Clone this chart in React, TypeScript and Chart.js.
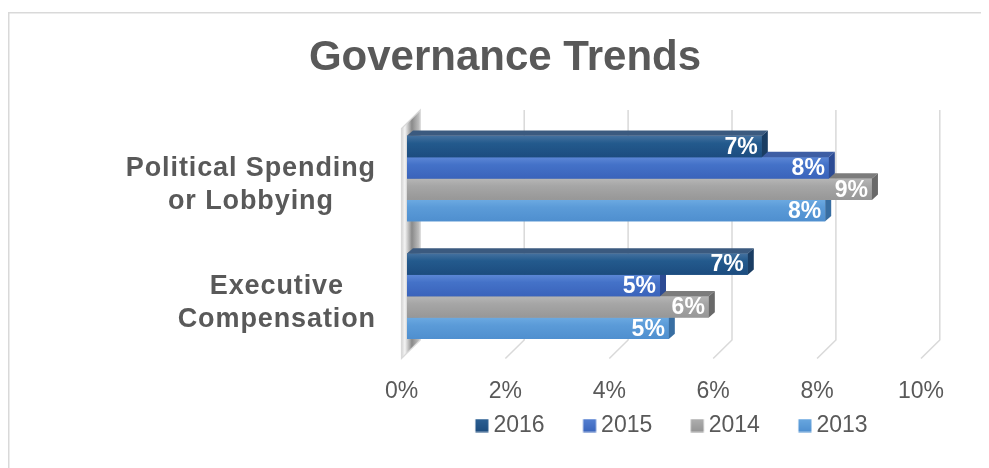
import React, { useEffect, useRef } from 'react';
import { Chart, registerables } from 'chart.js';

Chart.register(...registerables);

// ---------- data ----------
const categories: string[][] = [
  ['Political Spending', 'or Lobbying'],
  ['Executive', 'Compensation'],
];
const seriesNames = ['2016', '2015', '2014', '2013'];
const values2016 = [6.83, 6.56];
const values2015 = [8.12, 4.87];
const values2014 = [8.95, 5.81];
const values2013 = [8.05, 5.04];
const xTickValues = [0, 2, 4, 6, 8, 10];
const titleText = 'Governance Trends';

// ---------- styles ----------
const FONT = '"Liberation Sans", Arial, Helvetica, sans-serif';
const TEXT = '#595959';
const GRID = '#d9d9d9';

const palette = [
  { base: '#245a8e', front: ['#44719f', '#235a8d', '#1c4c7f'], top: '#3b5a7f', side: '#1a3d63', legend: ['#2d6094', '#1c4b7d'] },
  { base: '#4472c4', front: ['#5c87d6', '#4472c8', '#3a63bb'], top: '#3e5ea4', side: '#2c4b94', legend: ['#5580d2', '#3a64bb'] },
  { base: '#a5a5a5', front: ['#b6b6b6', '#a6a6a6', '#979797'], top: '#7c7c7c', side: '#696969', legend: ['#b0b0b0', '#939393'] },
  { base: '#5b9bd5', front: ['#6ba9e1', '#5b9bd8', '#4f8fcf'], top: '#4a80b6', side: '#386ea2', legend: ['#6aa8e0', '#4d8ecf'] },
];

// 3D geometry (styling)
const BAR_DX = 6;
const BAR_DY = 5.3;
const FRONT_SHIFT = -5.5; // front plane relative to bar plane
const GRID_DX = 18.8;
const GRID_DY = 18.5;

function makeLegendIcon(c0: string, c1: string): HTMLCanvasElement {
  const cv = document.createElement('canvas');
  cv.width = 32;
  cv.height = 14;
  const g = cv.getContext('2d')!;
  const gr = g.createLinearGradient(0, 0, 0, 14);
  gr.addColorStop(0, c0);
  gr.addColorStop(1, c1);
  g.fillStyle = gr;
  g.fillRect(17.5, 0.5, 13, 13);
  return cv;
}

const threeDPlugin = {
  id: 'threeD',
  beforeDraw(chart: any) {
    const ctx = chart.ctx;
    ctx.save();
    ctx.fillStyle = '#ffffff';
    ctx.fillRect(0, 0, chart.width, chart.height);
    ctx.strokeStyle = GRID;
    ctx.lineWidth = 1.5;
    ctx.beginPath();
    ctx.moveTo(0.75, chart.height);
    ctx.lineTo(0.75, 4.7);
    ctx.lineTo(chart.width, 4.7);
    ctx.stroke();
    ctx.restore();
  },
  beforeDatasetsDraw(chart: any) {
    const ctx = chart.ctx;
    const xs = chart.scales.x;
    const area = chart.chartArea;
    const frontY = area.bottom + 3.5;
    const backY = frontY - GRID_DY;
    const topY = area.top - 9.65;
    ctx.save();
    xTickValues.forEach((t) => {
      const xf = xs.getPixelForValue(t) + FRONT_SHIFT;
      const xb = xf + GRID_DX;
      if (t === 0) {
        const gr = ctx.createLinearGradient(xf, 0, xb, 0);
        gr.addColorStop(0, '#d4d4d4');
        gr.addColorStop(0.18, '#f4f4f4');
        gr.addColorStop(0.55, '#8a8a8a');
        gr.addColorStop(1, '#c9c9c9');
        ctx.fillStyle = gr;
        ctx.beginPath();
        ctx.moveTo(xf, frontY);
        ctx.lineTo(xb, backY);
        ctx.lineTo(xb, topY);
        ctx.lineTo(xf, topY + GRID_DY);
        ctx.closePath();
        ctx.fill();
        ctx.strokeStyle = GRID;
        ctx.lineWidth = 1.2;
        ctx.stroke();
      } else {
        ctx.strokeStyle = GRID;
        ctx.lineWidth = 1.5;
        ctx.beginPath();
        ctx.moveTo(xb, topY);
        ctx.lineTo(xb, backY);
        ctx.lineTo(xf, frontY);
        ctx.stroke();
      }
    });
    ctx.restore();
  },
  afterDatasetDraw(chart: any, args: any) {
    const ctx = chart.ctx;
    const i = args.index;
    const pal = palette[i];
    const meta = chart.getDatasetMeta(i);
    ctx.save();
    meta.data.forEach((el: any) => {
      const p = el.getProps(['x', 'y', 'base', 'height'], true);
      const x0 = Math.min(p.x, p.base);
      const x1 = Math.max(p.x, p.base);
      const yT = p.y - p.height / 2;
      const yB = p.y + p.height / 2;
      // front face
      const gr = ctx.createLinearGradient(0, yT, 0, yB);
      gr.addColorStop(0, pal.front[0]);
      gr.addColorStop(0.35, pal.front[1]);
      gr.addColorStop(1, pal.front[2]);
      ctx.fillStyle = gr;
      ctx.fillRect(x0, yT, x1 - x0, yB - yT);
      // top face
      ctx.fillStyle = pal.top;
      ctx.beginPath();
      ctx.moveTo(x0, yT);
      ctx.lineTo(x1, yT);
      ctx.lineTo(x1 + BAR_DX, yT - BAR_DY);
      ctx.lineTo(x0 + BAR_DX, yT - BAR_DY);
      ctx.closePath();
      ctx.fill();
      // side face
      ctx.fillStyle = pal.side;
      ctx.beginPath();
      ctx.moveTo(x1, yT);
      ctx.lineTo(x1 + BAR_DX, yT - BAR_DY);
      ctx.lineTo(x1 + BAR_DX, yB - BAR_DY);
      ctx.lineTo(x1, yB);
      ctx.closePath();
      ctx.fill();
    });
    ctx.restore();
  },
  afterDatasetsDraw(chart: any) {
    const ctx = chart.ctx;
    ctx.save();
    ctx.font = `bold 23px ${FONT}`;
    ctx.fillStyle = '#ffffff';
    ctx.textAlign = 'right';
    ctx.textBaseline = 'middle';
    chart.data.datasets.forEach((ds: any, i: number) => {
      const meta = chart.getDatasetMeta(i);
      meta.data.forEach((el: any, j: number) => {
        const p = el.getProps(['x', 'y'], true);
        ctx.fillText(Math.round(ds.data[j]) + '%', p.x - 4, p.y + 1);
      });
    });
    ctx.restore();
  },
  afterDraw(chart: any) {
    const ctx = chart.ctx;
    const ys = chart.scales.y;
    const right = 368;
    ctx.save();
    ctx.font = `bold 27px ${FONT}`;
    try { (ctx as any).letterSpacing = '0.9px'; } catch (e) { /* ignore */ }
    ctx.fillStyle = TEXT;
    ctx.textAlign = 'center';
    ctx.textBaseline = 'middle';
    categories.forEach((lines, j) => {
      const yc = ys.getPixelForValue(j) + 6.5;
      const widths = lines.map((l) => ctx.measureText(l).width);
      const maxW = Math.max(...widths);
      const cx = right - maxW / 2;
      lines.forEach((l, k) => {
        ctx.fillText(l, cx, yc + (k - (lines.length - 1) / 2) * 33);
      });
    });
    ctx.restore();
  },
};

export default function App() {
  const ref = useRef<HTMLCanvasElement | null>(null);

  useEffect(() => {
    document.documentElement.style.overflow = 'hidden';
    if (!ref.current) return;
    const icons = palette.map((p) => makeLegendIcon(p.legend[0], p.legend[1]));
    const seriesValues = [values2016, values2015, values2014, values2013];
    const chart = new Chart(ref.current, {
      type: 'bar',
      data: {
        labels: categories,
        datasets: seriesNames.map((name, i) => ({
          label: name,
          data: seriesValues[i],
          backgroundColor: palette[i].base,
          borderWidth: 0,
          barPercentage: 1,
          categoryPercentage: 0.727,
        })),
      },
      options: {
        indexAxis: 'y',
        animation: false,
        responsive: true,
        maintainAspectRatio: false,
        layout: { padding: { left: 75.5, right: 62.5, top: 0, bottom: 21 } },
        scales: {
          x: {
            min: 0,
            max: 10,
            grid: { display: false },
            border: { display: false },
            ticks: {
              stepSize: 2,
              padding: 14.5,
              labelOffset: FRONT_SHIFT,
              color: TEXT,
              font: { size: 23, family: FONT },
              callback: (v: any) => v + '%',
            },
            afterFit: (s: any) => {
              s.height = 29.95;
              s.paddingLeft = 0;
              s.paddingRight = 0;
              // labels sit a little below the (compact) axis box; don't clip them
              s._computeLabelArea = () => undefined;
            },
          },
          y: {
            grid: { display: false },
            border: { display: false },
            ticks: { display: false },
            afterFit: (s: any) => {
              s.width = 323.5;
              s.paddingTop = 0;
              s.paddingBottom = 0;
            },
          },
        },
        plugins: {
          title: {
            display: true,
            text: titleText,
            color: TEXT,
            font: { size: 42, weight: 'bold', family: FONT },
            padding: { top: 25.3, bottom: 36 },
          },
          legend: {
            display: true,
            position: 'bottom',
            fullSize: false,
            labels: {
              usePointStyle: true,
              pointStyleWidth: 16,
              boxHeight: 13,
              padding: 29,
              color: TEXT,
              font: { size: 23, family: FONT },
              generateLabels: () =>
                seriesNames.map((name, i) => ({
                  text: name,
                  pointStyle: icons[i],
                  fillStyle: palette[i].base,
                  strokeStyle: 'transparent',
                  lineWidth: 0,
                  hidden: false,
                  datasetIndex: i,
                  fontColor: TEXT,
                })),
            },
          },
          tooltip: { enabled: false },
        },
      },
      plugins: [threeDPlugin],
    } as any);
    return () => chart.destroy();
  }, []);

  return (
    <div style={{ position: 'relative', width: 981, height: 460 }}>
      <canvas ref={ref} />
    </div>
  );
}
